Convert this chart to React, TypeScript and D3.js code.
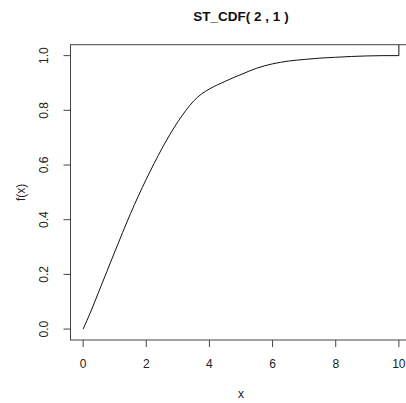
import React from "react";
import * as d3 from "d3";

const titleText = "ST_CDF( 2 , 1 )";
const xLabel = "x";
const yLabel = "f(x)";
const xTicks = [0, 2, 4, 6, 8, 10];
const yTicks = [0, 0.2, 0.4, 0.6, 0.8, 1.0];
const yTickLabels = ["0.0", "0.2", "0.4", "0.6", "0.8", "1.0"];

const xValues = [0, 0.25, 0.5, 0.75, 1.0, 1.25, 1.5, 1.75, 2.0, 2.25, 2.5, 2.75, 3.0, 3.25, 3.5, 3.75, 4.0, 4.25, 4.5, 4.75, 5.0, 5.5, 6.0, 6.5, 7.0, 7.5, 8.0, 8.5, 9.0, 9.5, 10.0, 10.0];
const yValues = [0, 0.066, 0.138, 0.21, 0.282, 0.353, 0.422, 0.487, 0.548, 0.606, 0.661, 0.712, 0.758, 0.799, 0.834, 0.86, 0.878, 0.893, 0.906, 0.919, 0.931, 0.954, 0.97, 0.98, 0.986, 0.991, 0.994, 0.997, 0.999, 1.0, 1.0, 1.5];

const W = 406;
const H = 403;
const left = 70.5;
const right = 411.5;
const top = 44.7;
const bottom = 340;

export default function App() {
  const x = d3.scaleLinear().domain([-0.4, 10.4]).range([left, right]);
  const y = d3.scaleLinear().domain([-0.04, 1.04]).range([bottom, top]);
  const pts: [number, number][] = xValues.map((v, i) => [v, yValues[i]]);
  const main = pts.slice(0, pts.length - 1);
  const jump = pts.slice(pts.length - 2);
  const smooth = d3
    .line<[number, number]>()
    .x((d) => x(d[0]))
    .y((d) => y(d[1]))
    .curve(d3.curveMonotoneX);
  const straight = d3
    .line<[number, number]>()
    .x((d) => x(d[0]))
    .y((d) => y(d[1]));
  const font = "'Liberation Sans', Arial, sans-serif";
  const textColor = "#222";
  const axisColor = "#444";
  return (
    <svg
      width={W}
      height={H}
      style={{ position: "absolute", left: 0, top: 0, background: "#fff" }}
      fontFamily={font}
    >
      <defs>
        <clipPath id="plotclip">
          <rect x={left} y={top} width={right - left} height={bottom - top} />
        </clipPath>
      </defs>
      <rect x={0} y={0} width={W} height={H} fill="#fff" />
      <text x={(left + right) / 2} y={21} textAnchor="middle" fontWeight="bold" fontSize={13.5} fill="#111">
        {titleText}
      </text>
      <g clipPath="url(#plotclip)">
        <path d={smooth(main) || ""} fill="none" stroke="#111" strokeWidth={1} />
        <path d={straight(jump) || ""} fill="none" stroke="#111" strokeWidth={1} />
      </g>
      <rect x={left} y={top} width={right - left} height={bottom - top} fill="none" stroke={axisColor} strokeWidth={1} />
      {xTicks.map((t) => (
        <g key={"x" + t}>
          <line x1={x(t)} x2={x(t)} y1={bottom} y2={bottom + 7} stroke={axisColor} />
          <text x={x(t)} y={368} textAnchor="middle" fontSize={12} fill={textColor}>
            {t}
          </text>
        </g>
      ))}
      {yTicks.map((t, i) => (
        <g key={"y" + t}>
          <line x1={left} x2={left - 7} y1={y(t)} y2={y(t)} stroke={axisColor} />
          <text
            transform={`translate(48,${y(t)}) rotate(-90)`}
            textAnchor="middle"
            fontSize={12}
            fill={textColor}
          >
            {yTickLabels[i]}
          </text>
        </g>
      ))}
      <text x={(left + right) / 2} y={398} textAnchor="middle" fontSize={12} fill={textColor}>
        {xLabel}
      </text>
      <text
        transform={`translate(25,${(top + bottom) / 2}) rotate(-90)`}
        textAnchor="middle"
        fontSize={12}
        fill={textColor}
      >
        {yLabel}
      </text>
    </svg>
  );
}
